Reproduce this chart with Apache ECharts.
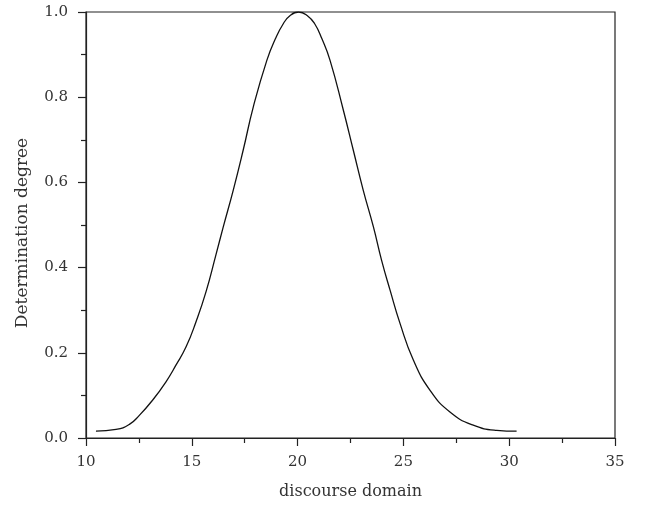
<!DOCTYPE html>
<html>
<head>
<meta charset="utf-8">
<script src="https://cdn.jsdelivr.net/npm/echarts@6/dist/echarts.min.js"></script>
<style>
  html, body { margin: 0; padding: 0; background: #fff; }
  #chart { width: 646px; height: 509px; }
</style>
</head>
<body>
<div id="chart"></div>
<script>
// values
var domainX = [10.47, 11.42, 12.05, 12.52, 13.15, 13.78, 14.25, 14.73, 15.2, 15.67, 16.14, 16.49, 16.96, 17.43, 17.91, 18.55, 18.95, 19.33, 19.65, 20.05, 20.45, 20.8, 21.15, 21.53, 22.16, 22.63, 23.1, 23.58, 23.97, 24.37, 24.84, 25.47, 26.26, 27.2, 28.3, 29.41, 30.35];
var degreeY = [0.016, 0.020, 0.032, 0.053, 0.089, 0.132, 0.171, 0.214, 0.273, 0.343, 0.43, 0.496, 0.582, 0.676, 0.778, 0.887, 0.937, 0.973, 0.992, 1.0, 0.992, 0.973, 0.937, 0.887, 0.770, 0.676, 0.582, 0.496, 0.417, 0.347, 0.269, 0.183, 0.112, 0.061, 0.030, 0.018, 0.016];

var xTicks = [10, 15, 20, 25, 30, 35];
var yTicks = [0, 0.2, 0.4, 0.6, 0.8, 1.0];

var points = domainX.map(function(x, i) {
    return [x, degreeY[i]];
});

var serif = 'DejaVu Serif';
var axisColor = '#222';
var textColor = '#333';

var myChart = echarts.init(document.getElementById('chart'));
myChart.setOption({
    backgroundColor: '#fff',
    animation: false,
    grid: {
        left: 86,
        right: 31,
        top: 12,
        bottom: 71,
        containLabel: false,
        outerBoundsMode: 'none',
        show: true,
        borderColor: axisColor,
        borderWidth: 1.2
    },
    xAxis: {
        type: 'value',
        min: xTicks[0],
        max: xTicks[xTicks.length - 1],
        interval: 5,
        name: 'discourse domain',
        nameLocation: 'middle',
        nameGap: 46,
        nameTextStyle: { fontFamily: serif, fontSize: 16, color: textColor },
        axisLine: { lineStyle: { color: axisColor, width: 1.2 } },
        axisTick: { inside: false, length: 8, lineStyle: { color: axisColor, width: 1.2 } },
        minorTick: { show: true, splitNumber: 2, length: 5, lineStyle: { color: axisColor, width: 1.2 } },
        axisLabel: { fontFamily: serif, fontSize: 15, color: textColor, margin: 17 },
        splitLine: { show: false }
    },
    yAxis: {
        type: 'value',
        min: yTicks[0],
        max: yTicks[yTicks.length - 1],
        interval: 0.2,
        name: 'Determination degree',
        nameLocation: 'middle',
        nameGap: 55,
        nameTextStyle: { fontFamily: serif, fontSize: 17, color: textColor, padding: [0, 16, 0, 0] },
        axisLine: { lineStyle: { color: axisColor, width: 1.2 } },
        axisTick: { inside: false, length: 8, lineStyle: { color: axisColor, width: 1.2 } },
        minorTick: { show: true, splitNumber: 2, length: 5, lineStyle: { color: axisColor, width: 1.2 } },
        axisLabel: {
            fontFamily: serif, fontSize: 15, color: textColor, margin: 18,
            formatter: function(v) { return v.toFixed(1); }
        },
        splitLine: { show: false }
    },
    series: [{
        type: 'line',
        data: points,
        smooth: true,
        showSymbol: false,
        lineStyle: { color: '#111', width: 1.3 }
    }]
});
</script>
</body>
</html>
